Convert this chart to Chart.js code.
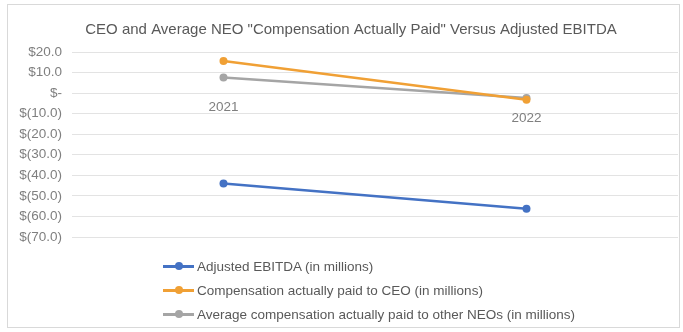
<!DOCTYPE html>
<html>
<head>
<meta charset="utf-8">
<script src="https://cdn.jsdelivr.net/npm/chart.js@4"></script>
<style>
  body { margin: 0; background: #fff; font-family: "Liberation Sans", Arial, sans-serif; }
  #wrap { position: relative; width: 683px; height: 332px; }
  #frame { position: absolute; left: 7px; top: 4px; width: 671px; height: 322px; border: 1px solid #d9d9d9; pointer-events: none; }
  #legend { position: absolute; left: 163px; top: 254px; }
  .item { height: 24px; display: flex; align-items: center; font-size: 13.5px; color: #595959; }
  .mark { position: relative; width: 31px; height: 3px; margin-right: 3px; }
  .mark span { position: absolute; left: 12px; top: -2.5px; width: 8px; height: 8px; border-radius: 50%; }
</style>
</head>
<body>
<div id="wrap">
  <canvas id="chart" width="683" height="332"></canvas>
  <div id="frame"></div>
  <div id="legend"></div>
</div>
<script>
const years = ["2021", "2022"];
const adjustedEbitda = [-44.0, -56.2];
const ceoPaid = [15.6, -3.2];
const neoPaid = [7.6, -2.4];

const BLUE = "#4472c4";
const ORANGE = "#f0a035";
const GRAY = "#a5a5a5";
const PAD_LEFT = 24;

function money(v) {
  if (v === 0) return "$-";
  if (v < 0) return "$(" + Math.abs(v).toFixed(1) + ")";
  return "$" + v.toFixed(1);
}

function line(label, data, color) {
  return {
    label,
    data,
    borderColor: color,
    backgroundColor: color,
    borderWidth: 2.5,
    pointRadius: 4,
    pointBorderWidth: 0,
    tension: 0
  };
}

// y labels are wider than the axis box (title is centred off-middle), so widen the clip area
const unclipY = {
  id: "unclipY",
  afterLayout(chart) { chart.scales.y.left = 0; }
};

const ctx = document.getElementById("chart").getContext("2d");
const chart = new Chart(ctx, {
  type: "line",
  data: {
    // second label pushed down one line, like the original
    labels: [years[0], ["", years[1]]],
    datasets: [
      line("Adjusted EBITDA (in millions)", adjustedEbitda, BLUE),
      line("Compensation actually paid to CEO (in millions)", ceoPaid, ORANGE),
      line("Average compensation actually paid to other NEOs (in millions)", neoPaid, GRAY)
    ]
  },
  options: {
    responsive: false,
    animation: false,
    layout: { padding: { top: 13, right: 5, bottom: 95, left: PAD_LEFT } },
    plugins: {
      legend: { display: false },
      tooltip: { enabled: false },
      title: {
        display: true,
        text: "CEO and Average NEO \"Compensation Actually Paid\" Versus Adjusted EBITDA",
        color: "#595959",
        font: { family: "Liberation Sans", size: 15, weight: "normal" },
        padding: { top: 8, bottom: 13 }
      }
    },
    scales: {
      x: {
        position: { y: 0 },
        offset: true,
        grid: { display: false, drawTicks: false },
        border: { display: false },
        ticks: {
          color: "#7f7f7f",
          padding: 9,
          maxRotation: 0,
          font: { family: "Liberation Sans", size: 13.5, lineHeight: 0.8 }
        }
      },
      y: {
        min: -70,
        max: 20,
        ticks: {
          stepSize: 10,
          color: "#7f7f7f",
          padding: 10,
          font: { family: "Liberation Sans", size: 13.5 },
          callback: v => money(v)
        },
        grid: { color: "#e3e3e3", drawTicks: false, lineWidth: 1 },
        border: { display: false },
        afterFit: s => { s.width = 72 - PAD_LEFT; }
      }
    }
  },
  plugins: [unclipY]
});

// legend, one entry per row, built from the datasets
const legendEl = document.getElementById("legend");
chart.data.datasets.forEach(ds => {
  const row = document.createElement("div");
  row.className = "item";
  row.innerHTML = '<div class="mark" style="background:' + ds.borderColor + '"><span style="background:' +
    ds.borderColor + '"></span></div><div>' + ds.label + '</div>';
  legendEl.appendChild(row);
});
</script>
</body>
</html>
